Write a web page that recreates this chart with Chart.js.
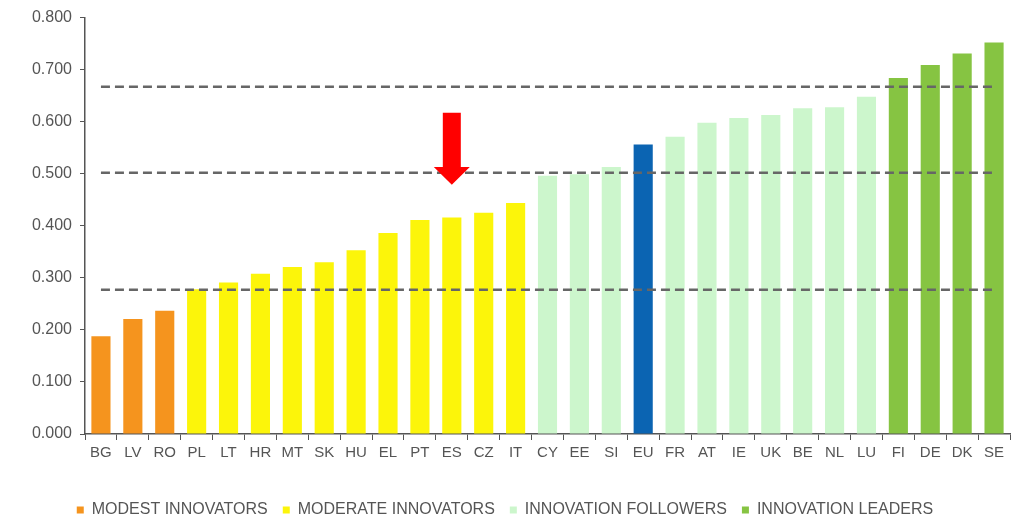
<!DOCTYPE html>
<html>
<head>
<meta charset="utf-8">
<script src="https://cdn.jsdelivr.net/npm/chart.js@4/dist/chart.umd.min.js"></script>
<style>
  html, body { margin: 0; padding: 0; background: #fff; }
  #wrap { width: 1012px; height: 519px; position: relative; }
</style>
</head>
<body>
<div id="wrap"><canvas id="chart"></canvas></div>
<script>
// 国家代码
const countries = ['BG', 'LV', 'RO', 'PL', 'LT', 'HR', 'MT', 'SK', 'HU', 'EL', 'PT', 'ES', 'CZ', 'IT',
    'CY', 'EE', 'SI', 'EU', 'FR', 'AT', 'IE', 'UK', 'BE', 'NL', 'LU', 'FI', 'DE', 'DK', 'SE'];

// 创新指数
const scores = [0.188, 0.221, 0.237, 0.278, 0.291, 0.308, 0.321, 0.330, 0.353, 0.386, 0.411, 0.416, 0.425, 0.444,
    0.496, 0.499, 0.513, 0.556, 0.571, 0.598, 0.607, 0.613, 0.626, 0.628, 0.648, 0.684, 0.709, 0.731, 0.752];

// 每个国家所属的组
const groups = ['modest', 'modest', 'modest',
    'moderate', 'moderate', 'moderate', 'moderate', 'moderate', 'moderate', 'moderate', 'moderate', 'moderate', 'moderate', 'moderate',
    'follower', 'follower', 'follower', 'eu',
    'follower', 'follower', 'follower', 'follower', 'follower', 'follower', 'follower',
    'leader', 'leader', 'leader', 'leader'];

// 图例
const groupKeys = ['modest', 'moderate', 'follower', 'leader'];
const groupNames = ['MODEST INNOVATORS', 'MODERATE INNOVATORS', 'INNOVATION FOLLOWERS', 'INNOVATION LEADERS'];
const groupColors = {
    modest: '#F5941E',
    moderate: '#FCF50A',
    follower: '#CCF6CC',
    eu: '#0B64B2',
    leader: '#86C442'
};

// 虚线阈值
const thresholds = [0.277, 0.502, 0.667];

// 红色箭头（指向 ES）
const arrowCountry = 'ES';
const arrowTop = 0.617;
const arrowHeadBase = 0.513;
const arrowTip = 0.479;

const textColor = '#555';
const axisColor = '#555';
const fontFamily = 'Arial, "Liberation Sans", sans-serif';

const arrowPlugin = {
    id: 'arrow',
    afterDatasetsDraw(chart) {
        const x = chart.scales.x.getPixelForValue(countries.indexOf(arrowCountry));
        const y = chart.scales.y;
        const ctx = chart.ctx;
        const top = y.getPixelForValue(arrowTop);
        const base = y.getPixelForValue(arrowHeadBase);
        const tip = y.getPixelForValue(arrowTip);
        ctx.save();
        ctx.fillStyle = '#FF0000';
        ctx.beginPath();
        ctx.moveTo(x - 9, top);
        ctx.lineTo(x + 9, top);
        ctx.lineTo(x + 9, base);
        ctx.lineTo(x + 18, base);
        ctx.lineTo(x, tip);
        ctx.lineTo(x - 18, base);
        ctx.lineTo(x - 9, base);
        ctx.closePath();
        ctx.fill();
        ctx.restore();
    }
};

const lineSets = thresholds.map(v => ({
    type: 'line',
    data: countries.map(() => v),
    borderColor: '#666',
    borderWidth: 2.5,
    borderDash: [9, 5],
    pointRadius: 0,
    fill: false,
    order: 0
}));

new Chart(document.getElementById('chart'), {
    type: 'bar',
    data: {
        labels: countries,
        datasets: [
            {
                data: scores,
                backgroundColor: groups.map(g => groupColors[g]),
                barPercentage: 0.6,
                categoryPercentage: 1,
                order: 1
            },
            ...lineSets
        ]
    },
    options: {
        responsive: true,
        maintainAspectRatio: false,
        animation: false,
        layout: { padding: { top: 17, right: 2, left: 0, bottom: 0 } },
        plugins: {
            tooltip: { enabled: false },
            legend: {
                position: 'bottom',
                maxHeight: 32,
                labels: {
                    color: textColor,
                    font: { family: fontFamily, size: 16 },
                    boxWidth: 7,
                    boxHeight: 7,
                    padding: 15,
                    generateLabels: () => groupKeys.map((k, i) => ({
                        text: groupNames[i],
                        fillStyle: groupColors[k],
                        strokeStyle: groupColors[k],
                        lineWidth: 0,
                        fontColor: textColor
                    }))
                },
                onClick: null
            }
        },
        scales: {
            x: {
                grid: {
                    display: true,
                    drawOnChartArea: false,
                    tickLength: 6,
                    color: axisColor,
                    offset: true
                },
                border: { color: axisColor, width: 1.5 },
                ticks: {
                    color: textColor,
                    font: { family: fontFamily, size: 15 },
                    padding: 4,
                    maxRotation: 0,
                    autoSkip: false
                },
                afterFit(scale) { scale.height = 53; }
            },
            y: {
                min: 0,
                max: 0.8,
                ticks: {
                    stepSize: 0.1,
                    color: textColor,
                    font: { family: fontFamily, size: 16 },
                    padding: 8,
                    callback: v => v.toFixed(3)
                },
                grid: {
                    display: true,
                    drawOnChartArea: false,
                    tickLength: 5,
                    color: axisColor
                },
                border: { color: axisColor, width: 1.5 },
                afterFit(scale) { scale.width = 85; }
            }
        }
    },
    plugins: [arrowPlugin]
});
</script>
</body>
</html>
